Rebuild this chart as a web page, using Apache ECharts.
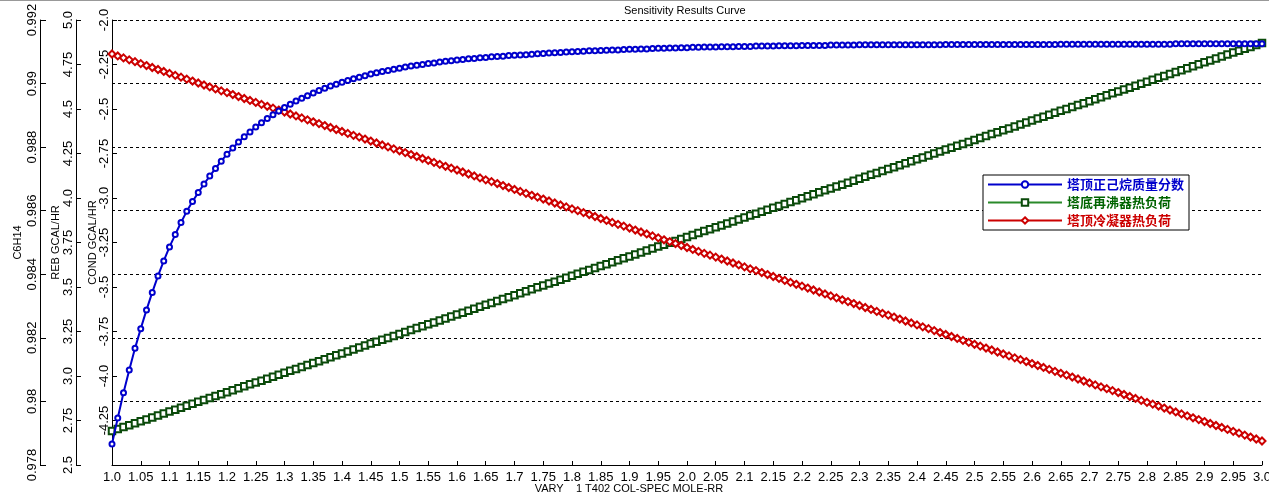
<!DOCTYPE html>
<html>
<head>
<meta charset="utf-8">
<script src="https://cdn.jsdelivr.net/npm/echarts@6/dist/echarts.min.js"></script>
<style>
html,body{margin:0;padding:0;background:#fff;}
#chart{width:1269px;height:500px;}
</style>
</head>
<body>
<div id="chart"></div>
<script>
const TITLE = 'Sensitivity Results Curve';
const X_NAME = 'VARY    1 T402 COL-SPEC MOLE-RR';
const SERIES_NAMES = ['塔顶正己烷质量分数', '塔底再沸器热负荷', '塔顶冷凝器热负荷'];
const AXIS_NAMES = ['C6H14', 'REB GCAL/HR', 'COND GCAL/HR'];

const xs = [
1.00,1.01,1.02,1.03,1.04,1.05,1.06,1.07,1.08,1.09,
1.10,1.11,1.12,1.13,1.14,1.15,1.16,1.17,1.18,1.19,
1.20,1.21,1.22,1.23,1.24,1.25,1.26,1.27,1.28,1.29,
1.30,1.31,1.32,1.33,1.34,1.35,1.36,1.37,1.38,1.39,
1.40,1.41,1.42,1.43,1.44,1.45,1.46,1.47,1.48,1.49,
1.50,1.51,1.52,1.53,1.54,1.55,1.56,1.57,1.58,1.59,
1.60,1.61,1.62,1.63,1.64,1.65,1.66,1.67,1.68,1.69,
1.70,1.71,1.72,1.73,1.74,1.75,1.76,1.77,1.78,1.79,
1.80,1.81,1.82,1.83,1.84,1.85,1.86,1.87,1.88,1.89,
1.90,1.91,1.92,1.93,1.94,1.95,1.96,1.97,1.98,1.99,
2.00,2.01,2.02,2.03,2.04,2.05,2.06,2.07,2.08,2.09,
2.10,2.11,2.12,2.13,2.14,2.15,2.16,2.17,2.18,2.19,
2.20,2.21,2.22,2.23,2.24,2.25,2.26,2.27,2.28,2.29,
2.30,2.31,2.32,2.33,2.34,2.35,2.36,2.37,2.38,2.39,
2.40,2.41,2.42,2.43,2.44,2.45,2.46,2.47,2.48,2.49,
2.50,2.51,2.52,2.53,2.54,2.55,2.56,2.57,2.58,2.59,
2.60,2.61,2.62,2.63,2.64,2.65,2.66,2.67,2.68,2.69,
2.70,2.71,2.72,2.73,2.74,2.75,2.76,2.77,2.78,2.79,
2.80,2.81,2.82,2.83,2.84,2.85,2.86,2.87,2.88,2.89,
2.90,2.91,2.92,2.93,2.94,2.95,2.96,2.97,2.98,2.99,
3.00];

// 塔顶正己烷质量分数 (C6H14 axis)
const topC6H14 = [
0.97866,0.97948,0.98027,0.98099,0.98167,0.98229,0.98288,0.98343,0.98395,0.98442,
0.98486,0.98525,0.98563,0.98598,0.98629,0.98657,0.98684,0.98709,0.98733,0.98756,
0.98778,0.98797,0.98816,0.98833,0.98848,0.98863,0.98877,0.98890,0.98902,0.98914,
0.98925,0.98935,0.98945,0.98954,0.98962,0.98970,0.98978,0.98985,0.98992,0.98998,
0.99004,0.99010,0.99015,0.99020,0.99025,0.99030,0.99034,0.99038,0.99041,0.99045,
0.99048,0.99052,0.99055,0.99058,0.99060,0.99063,0.99065,0.99068,0.99070,0.99072,
0.99074,0.99076,0.99078,0.99079,0.99081,0.99082,0.99084,0.99085,0.99086,0.99088,
0.99089,0.99090,0.99091,0.99092,0.99094,0.99095,0.99096,0.99097,0.99098,0.99099,
0.99100,0.99101,0.99102,0.99103,0.99103,0.99104,0.99105,0.99106,0.99106,0.99107,
0.99108,0.99108,0.99109,0.99109,0.99110,0.99111,0.99111,0.99112,0.99112,0.99113,
0.99113,0.99114,0.99114,0.99115,0.99115,0.99115,0.99116,0.99116,0.99116,0.99117,
0.99117,0.99117,0.99118,0.99118,0.99118,0.99118,0.99119,0.99119,0.99119,0.99119,
0.99120,0.99120,0.99120,0.99120,0.99120,0.99121,0.99121,0.99121,0.99121,0.99121,
0.99122,0.99122,0.99122,0.99122,0.99122,0.99122,0.99122,0.99122,0.99122,0.99122,
0.99122,0.99122,0.99122,0.99122,0.99122,0.99123,0.99123,0.99123,0.99123,0.99123,
0.99123,0.99123,0.99123,0.99123,0.99123,0.99123,0.99123,0.99123,0.99123,0.99123,
0.99123,0.99123,0.99123,0.99123,0.99123,0.99124,0.99124,0.99124,0.99124,0.99124,
0.99124,0.99124,0.99124,0.99124,0.99124,0.99124,0.99124,0.99124,0.99124,0.99124,
0.99124,0.99124,0.99124,0.99124,0.99124,0.99125,0.99125,0.99125,0.99125,0.99125,
0.99125,0.99125,0.99125,0.99125,0.99125,0.99125,0.99125,0.99125,0.99125,0.99125,
0.99125];

// 塔底再沸器热负荷 (REB GCAL/HR axis)
const rebDuty = [
2.691,2.702,2.713,2.724,2.735,2.746,2.756,2.767,2.778,2.789,
2.800,2.811,2.822,2.833,2.844,2.855,2.865,2.876,2.887,2.898,
2.909,2.920,2.931,2.942,2.953,2.964,2.974,2.985,2.996,3.007,
3.018,3.029,3.040,3.051,3.062,3.073,3.083,3.094,3.105,3.116,
3.127,3.138,3.149,3.160,3.171,3.182,3.192,3.203,3.214,3.225,
3.236,3.247,3.258,3.269,3.280,3.291,3.301,3.312,3.323,3.334,
3.345,3.356,3.367,3.378,3.389,3.400,3.410,3.421,3.432,3.443,
3.454,3.465,3.476,3.487,3.498,3.509,3.519,3.530,3.541,3.552,
3.563,3.574,3.585,3.596,3.607,3.618,3.628,3.639,3.650,3.661,
3.672,3.683,3.694,3.705,3.716,3.727,3.737,3.748,3.759,3.770,
3.781,3.792,3.803,3.814,3.825,3.836,3.846,3.857,3.868,3.879,
3.890,3.901,3.912,3.923,3.934,3.945,3.955,3.966,3.977,3.988,
3.999,4.010,4.021,4.032,4.043,4.054,4.064,4.075,4.086,4.097,
4.108,4.119,4.130,4.141,4.152,4.163,4.173,4.184,4.195,4.206,
4.217,4.228,4.239,4.250,4.261,4.272,4.282,4.293,4.304,4.315,
4.326,4.337,4.348,4.359,4.370,4.381,4.391,4.402,4.413,4.424,
4.435,4.446,4.457,4.468,4.479,4.490,4.500,4.511,4.522,4.533,
4.544,4.555,4.566,4.577,4.588,4.599,4.609,4.620,4.631,4.642,
4.653,4.664,4.675,4.686,4.697,4.708,4.718,4.729,4.740,4.751,
4.762,4.773,4.784,4.795,4.806,4.817,4.827,4.838,4.849,4.860,
4.871];

// 塔顶冷凝器热负荷 (COND GCAL/HR axis)
const condDuty = [
-2.191,-2.202,-2.213,-2.224,-2.234,-2.245,-2.256,-2.267,-2.278,-2.289,
-2.300,-2.311,-2.321,-2.332,-2.343,-2.354,-2.365,-2.376,-2.387,-2.398,
-2.408,-2.419,-2.430,-2.441,-2.452,-2.463,-2.474,-2.485,-2.495,-2.506,
-2.517,-2.528,-2.539,-2.550,-2.561,-2.572,-2.582,-2.593,-2.604,-2.615,
-2.626,-2.637,-2.648,-2.658,-2.669,-2.680,-2.691,-2.702,-2.713,-2.724,
-2.735,-2.745,-2.756,-2.767,-2.778,-2.789,-2.800,-2.811,-2.822,-2.832,
-2.843,-2.854,-2.865,-2.876,-2.887,-2.898,-2.908,-2.919,-2.930,-2.941,
-2.952,-2.963,-2.974,-2.985,-2.995,-3.006,-3.017,-3.028,-3.039,-3.050,
-3.061,-3.071,-3.082,-3.093,-3.104,-3.115,-3.126,-3.137,-3.148,-3.158,
-3.169,-3.180,-3.191,-3.202,-3.213,-3.224,-3.235,-3.245,-3.256,-3.267,
-3.278,-3.289,-3.300,-3.311,-3.321,-3.332,-3.343,-3.354,-3.365,-3.376,
-3.387,-3.398,-3.408,-3.419,-3.430,-3.441,-3.452,-3.463,-3.474,-3.485,
-3.495,-3.506,-3.517,-3.528,-3.539,-3.550,-3.561,-3.572,-3.582,-3.593,
-3.604,-3.615,-3.626,-3.637,-3.648,-3.658,-3.669,-3.680,-3.691,-3.702,
-3.713,-3.724,-3.734,-3.745,-3.756,-3.767,-3.778,-3.789,-3.800,-3.811,
-3.822,-3.832,-3.843,-3.854,-3.865,-3.876,-3.887,-3.898,-3.908,-3.919,
-3.930,-3.941,-3.952,-3.963,-3.974,-3.985,-3.995,-4.006,-4.017,-4.028,
-4.039,-4.050,-4.061,-4.071,-4.082,-4.093,-4.104,-4.115,-4.126,-4.137,
-4.148,-4.158,-4.169,-4.180,-4.191,-4.202,-4.213,-4.224,-4.235,-4.245,
-4.256,-4.267,-4.278,-4.289,-4.300,-4.311,-4.321,-4.332,-4.343,-4.354,
-4.365];

const FONT = '"Liberation Sans", Arial, "Noto Sans CJK SC", sans-serif';

function fmtX(v) {
  const s = (Math.round(v * 100) / 100).toFixed(2);
  return s.endsWith('0') ? s.slice(0, -1) : s;
}
function fmtOneDec(v) {
  const s = String(parseFloat(Number(v).toFixed(4)));
  return s.indexOf('.') >= 0 ? s : s + '.0';
}
function fmtPlain(v) {
  return String(parseFloat(Number(v).toFixed(4)));
}

function yAxisBase(opts) {
  return Object.assign({
    type: 'value',
    position: 'left',
    nameLocation: 'middle',
    nameRotate: 90,
    nameMoveOverlap: false,
    nameTextStyle: {fontSize: 11, color: '#000', fontFamily: FONT},
    axisLine: {show: true, onZero: false, lineStyle: {color: '#000', width: 1}},
    axisTick: {show: true, inside: true, length: 5, lineStyle: {color: '#000', width: 1}},
    axisLabel: {rotate: 90, margin: 1, fontSize: 13, color: '#000', fontFamily: FONT},
    splitLine: {show: false}
  }, opts);
}

const chart = echarts.init(document.getElementById('chart'), null, {renderer: 'canvas'});
const option = {
  animation: false,
  backgroundColor: '#fff',
  textStyle: {fontFamily: FONT},
  graphic: [{type: 'rect', left: 0, top: 0, shape: {width: 1269, height: 1}, style: {fill: '#999'}, silent: true}],
  title: {
    text: TITLE, left: 624, top: 5, padding: 0,
    textStyle: {fontSize: 11, fontWeight: 'normal', color: '#000', fontFamily: FONT}
  },
  legend: {
    orient: 'vertical', left: 983, top: 175,
    padding: [3, 5, 3, 4], itemGap: 5, itemWidth: 74, itemHeight: 8,
    backgroundColor: '#fff', borderColor: '#000', borderWidth: 1, borderRadius: 0,
    textStyle: {fontSize: 13, fontWeight: 'bold', fontFamily: '"Noto Sans CJK SC", sans-serif'},
    data: [
      {name: SERIES_NAMES[0], textStyle: {color: '#0000cc'}},
      {name: SERIES_NAMES[1], textStyle: {color: '#006400'}},
      {name: SERIES_NAMES[2], textStyle: {color: '#cc0000'}}
    ]
  },
  grid: {left: 112, right: 7, top: 20, bottom: 35, containLabel: false, outerBoundsMode: 'none'},
  xAxis: {
    type: 'value', min: 1, max: 3, interval: 0.05,
    name: X_NAME, nameLocation: 'middle', nameGap: 18, nameMoveOverlap: false,
    nameTextStyle: {fontSize: 11, color: '#000', fontFamily: FONT, padding: [0, 116, 0, 0]},
    axisLine: {show: true, onZero: false, lineStyle: {color: '#000', width: 1}},
    axisTick: {show: true, inside: true, length: 4, lineStyle: {color: '#000'}},
    axisLabel: {fontSize: 13, color: '#000', margin: 6, formatter: fmtX, fontFamily: FONT},
    splitLine: {show: false}
  },
  yAxis: [
    yAxisBase({
      name: AXIS_NAMES[0], offset: 72, nameGap: 17,
      min: 0.978, max: 0.992, interval: 0.002,
      axisTick: {show: true, inside: true, length: 6, lineStyle: {color: '#000', width: 1}},
      axisLabel: {rotate: 90, margin: 1, fontSize: 13, color: '#000', fontFamily: FONT, formatter: fmtPlain},
      splitLine: {show: true, lineStyle: {type: [3, 3], color: '#000', width: 1}}
    }),
    yAxisBase({
      name: AXIS_NAMES[1], offset: 36, nameGap: 15,
      min: 2.5, max: 5.0, interval: 0.25,
      axisLabel: {rotate: 90, margin: 1, fontSize: 13, color: '#000', fontFamily: FONT, formatter: fmtOneDec}
    }),
    yAxisBase({
      name: AXIS_NAMES[2], offset: 0, nameGap: 14,
      min: -4.5, max: -2.0, interval: 0.25,
      axisLabel: {rotate: 90, margin: 1, fontSize: 13, color: '#000', fontFamily: FONT, formatter: fmtOneDec, showMinLabel: false}
    })
  ],
  series: [
    {
      name: SERIES_NAMES[0], type: 'line', yAxisIndex: 0, z: 4,
      data: xs.map((x, i) => [x, topC6H14[i]]),
      symbol: 'emptyCircle', symbolSize: 5,
      lineStyle: {color: '#0000cc', width: 2},
      itemStyle: {color: '#0000cc', borderWidth: 1.3}
    },
    {
      name: SERIES_NAMES[1], type: 'line', yAxisIndex: 1, z: 3,
      data: xs.map((x, i) => [x, rebDuty[i]]),
      symbol: 'emptyRect', symbolSize: 6.5,
      lineStyle: {color: '#2a8a2a', width: 2.5},
      itemStyle: {color: '#0a4a0a', borderWidth: 1.3}
    },
    {
      name: SERIES_NAMES[2], type: 'line', yAxisIndex: 2, z: 3,
      data: xs.map((x, i) => [x, condDuty[i]]),
      symbol: 'emptyDiamond', symbolSize: 7,
      lineStyle: {color: '#cc0000', width: 2},
      itemStyle: {color: '#cc0000', borderWidth: 1.3}
    }
  ]
};
chart.setOption(option);
</script>
</body>
</html>
